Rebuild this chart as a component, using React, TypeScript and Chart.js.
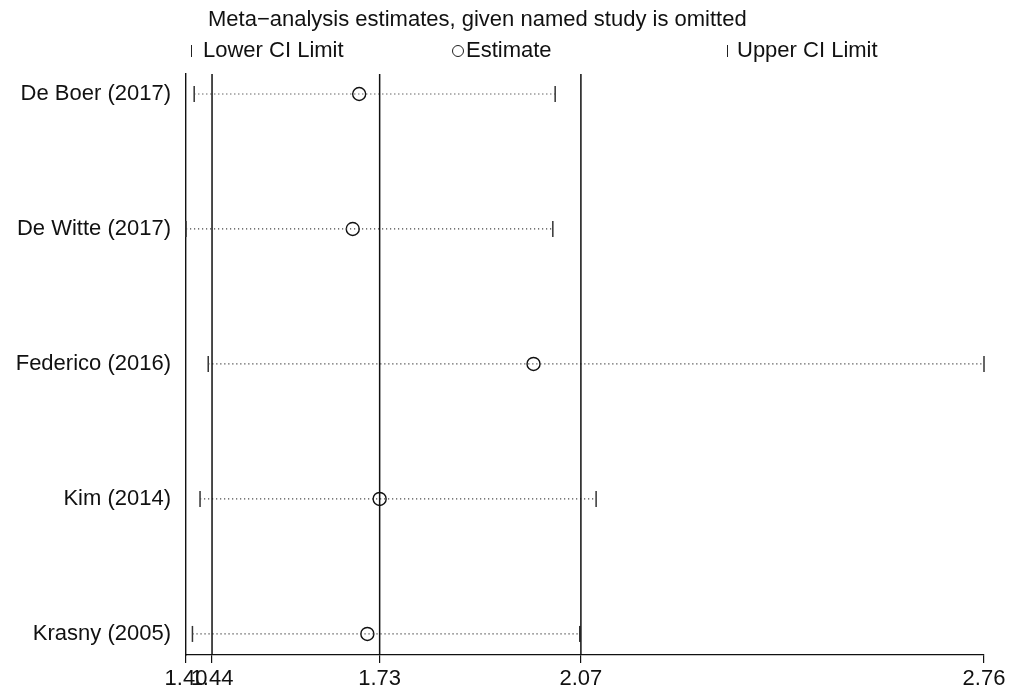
import React, { useEffect, useRef } from "react";
import { Chart, registerables } from "chart.js";

Chart.register(...registerables);

const studies = ["De Boer (2017)", "De Witte (2017)", "Federico (2016)", "Kim (2014)", "Krasny (2005)"];
const lowerCI = [1.41, 1.396, 1.434, 1.42, 1.407];
const estimates = [1.692, 1.681, 1.99, 1.727, 1.706];
const upperCI = [2.027, 2.023, 2.76, 2.097, 2.069];
const overallLines = [1.4405, 1.727, 2.071];
const xTickValues = [1.396, 1.4405, 1.727, 2.071, 2.76];
const titleText = "Meta\u2212analysis estimates, given named study is omitted";
const legendLabels = ["Lower CI Limit", "Estimate", "Upper CI Limit"];

const FONT = '"Liberation Sans", Arial, Helvetica, sans-serif';
const Y_MIN = -0.148;
const Y_MAX = 4.156;

export default function App() {
  const ref = useRef<HTMLCanvasElement | null>(null);

  useEffect(() => {
    document.body.style.margin = "0";
    const canvas = ref.current;
    if (!canvas) return;

    const headerPlugin = {
      id: "header",
      afterDraw(chart: any) {
        const ctx = chart.ctx as CanvasRenderingContext2D;
        ctx.save();
        ctx.fillStyle = "#111";
        ctx.strokeStyle = "#222";
        ctx.font = `22px ${FONT}`;
        ctx.textBaseline = "middle";
        ctx.textAlign = "left";
        ctx.fillText(titleText, 208, 20);
        const ly = 51;
        ctx.lineWidth = 1;
        ctx.beginPath();
        ctx.moveTo(191.5, ly - 6);
        ctx.lineTo(191.5, ly + 6);
        ctx.stroke();
        ctx.fillText(legendLabels[0], 203, ly);
        ctx.beginPath();
        ctx.arc(458, ly, 5.5, 0, Math.PI * 2);
        ctx.stroke();
        ctx.fillText(legendLabels[1], 466, ly);
        ctx.beginPath();
        ctx.moveTo(727.5, ly - 6);
        ctx.lineTo(727.5, ly + 6);
        ctx.stroke();
        ctx.fillText(legendLabels[2], 737, ly);
        ctx.restore();
      },
    };

    const dottedSets = studies.map((s, i) => ({
      type: "line" as const,
      label: s,
      data: [
        { x: lowerCI[i], y: i },
        { x: upperCI[i], y: i },
      ],
      borderColor: "#444",
      borderWidth: 1.2,
      borderDash: [1.2, 2.8],
      pointRadius: 0,
      clip: false as any,
    }));

    const refSets = overallLines.map((v) => ({
      type: "line" as const,
      label: "ref",
      data: [
        { x: v, y: Y_MIN },
        { x: v, y: Y_MAX },
      ],
      borderColor: "#111",
      borderWidth: 1.5,
      pointRadius: 0,
      clip: false as any,
    }));

    const chart = new Chart(canvas, {
      type: "scatter",
      data: {
        datasets: [
          ...refSets,
          ...dottedSets,
          {
            type: "scatter",
            label: "Lower",
            data: lowerCI.map((v, i) => ({ x: v, y: i })),
            pointStyle: "line",
            rotation: 90,
            pointRadius: 8,
            borderColor: "#333",
            borderWidth: 1.5,
            clip: false as any,
          },
          {
            type: "scatter",
            label: "Upper",
            data: upperCI.map((v, i) => ({ x: v, y: i })),
            pointStyle: "line",
            rotation: 90,
            pointRadius: 8,
            borderColor: "#333",
            borderWidth: 1.5,
            clip: false as any,
          },
          {
            type: "scatter",
            label: "Estimate",
            data: estimates.map((v, i) => ({ x: v, y: i })),
            pointStyle: "circle",
            pointRadius: 6.5,
            borderColor: "#111",
            borderWidth: 1.4,
            backgroundColor: "rgba(255,255,255,0)",
            clip: false as any,
          },
        ] as any,
      },
      options: {
        animation: false,
        responsive: true,
        maintainAspectRatio: false,
        events: [],
        layout: { padding: { top: 74, right: 33, left: 0, bottom: 0 } },
        plugins: {
          legend: { display: false },
          title: { display: false },
          tooltip: { enabled: false },
        },
        scales: {
          x: {
            type: "linear",
            min: xTickValues[0],
            max: xTickValues[xTickValues.length - 1],
            afterBuildTicks: (scale: any) => {
              scale.ticks = xTickValues.map((v) => ({ value: v }));
            },
            afterFit: (scale: any) => {
              scale.height = 36;
            },
            grid: {
              display: true,
              drawOnChartArea: false,
              drawTicks: true,
              tickLength: 8,
              color: "#111",
              lineWidth: 1.2,
            },
            border: { display: true, color: "#111", width: 1.2 },
            ticks: {
              autoSkip: false,
              maxRotation: 0,
              minRotation: 0,
              padding: 3,
              color: "#111",
              font: { family: FONT, size: 22 },
              callback: (v: any) => Number(v).toFixed(2),
            },
          },
          y: {
            type: "linear",
            reverse: true,
            min: Y_MIN,
            max: Y_MAX,
            afterBuildTicks: (scale: any) => {
              scale.ticks = studies.map((_, i) => ({ value: i }));
            },
            afterFit: (scale: any) => {
              scale.width = 186;
            },
            grid: { display: false, drawTicks: false },
            border: { display: true, color: "#111", width: 1.4 },
            ticks: {
              autoSkip: false,
              padding: 15,
              color: "#111",
              font: { family: FONT, size: 22 },
              callback: (v: any) => studies[Math.round(Number(v))] ?? "",
            },
          },
        },
      },
      plugins: [headerPlugin],
    });

    return () => chart.destroy();
  }, []);

  return (
    <div style={{ width: 1017, height: 691, position: "relative", background: "#fff" }}>
      <canvas ref={ref} />
    </div>
  );
}
